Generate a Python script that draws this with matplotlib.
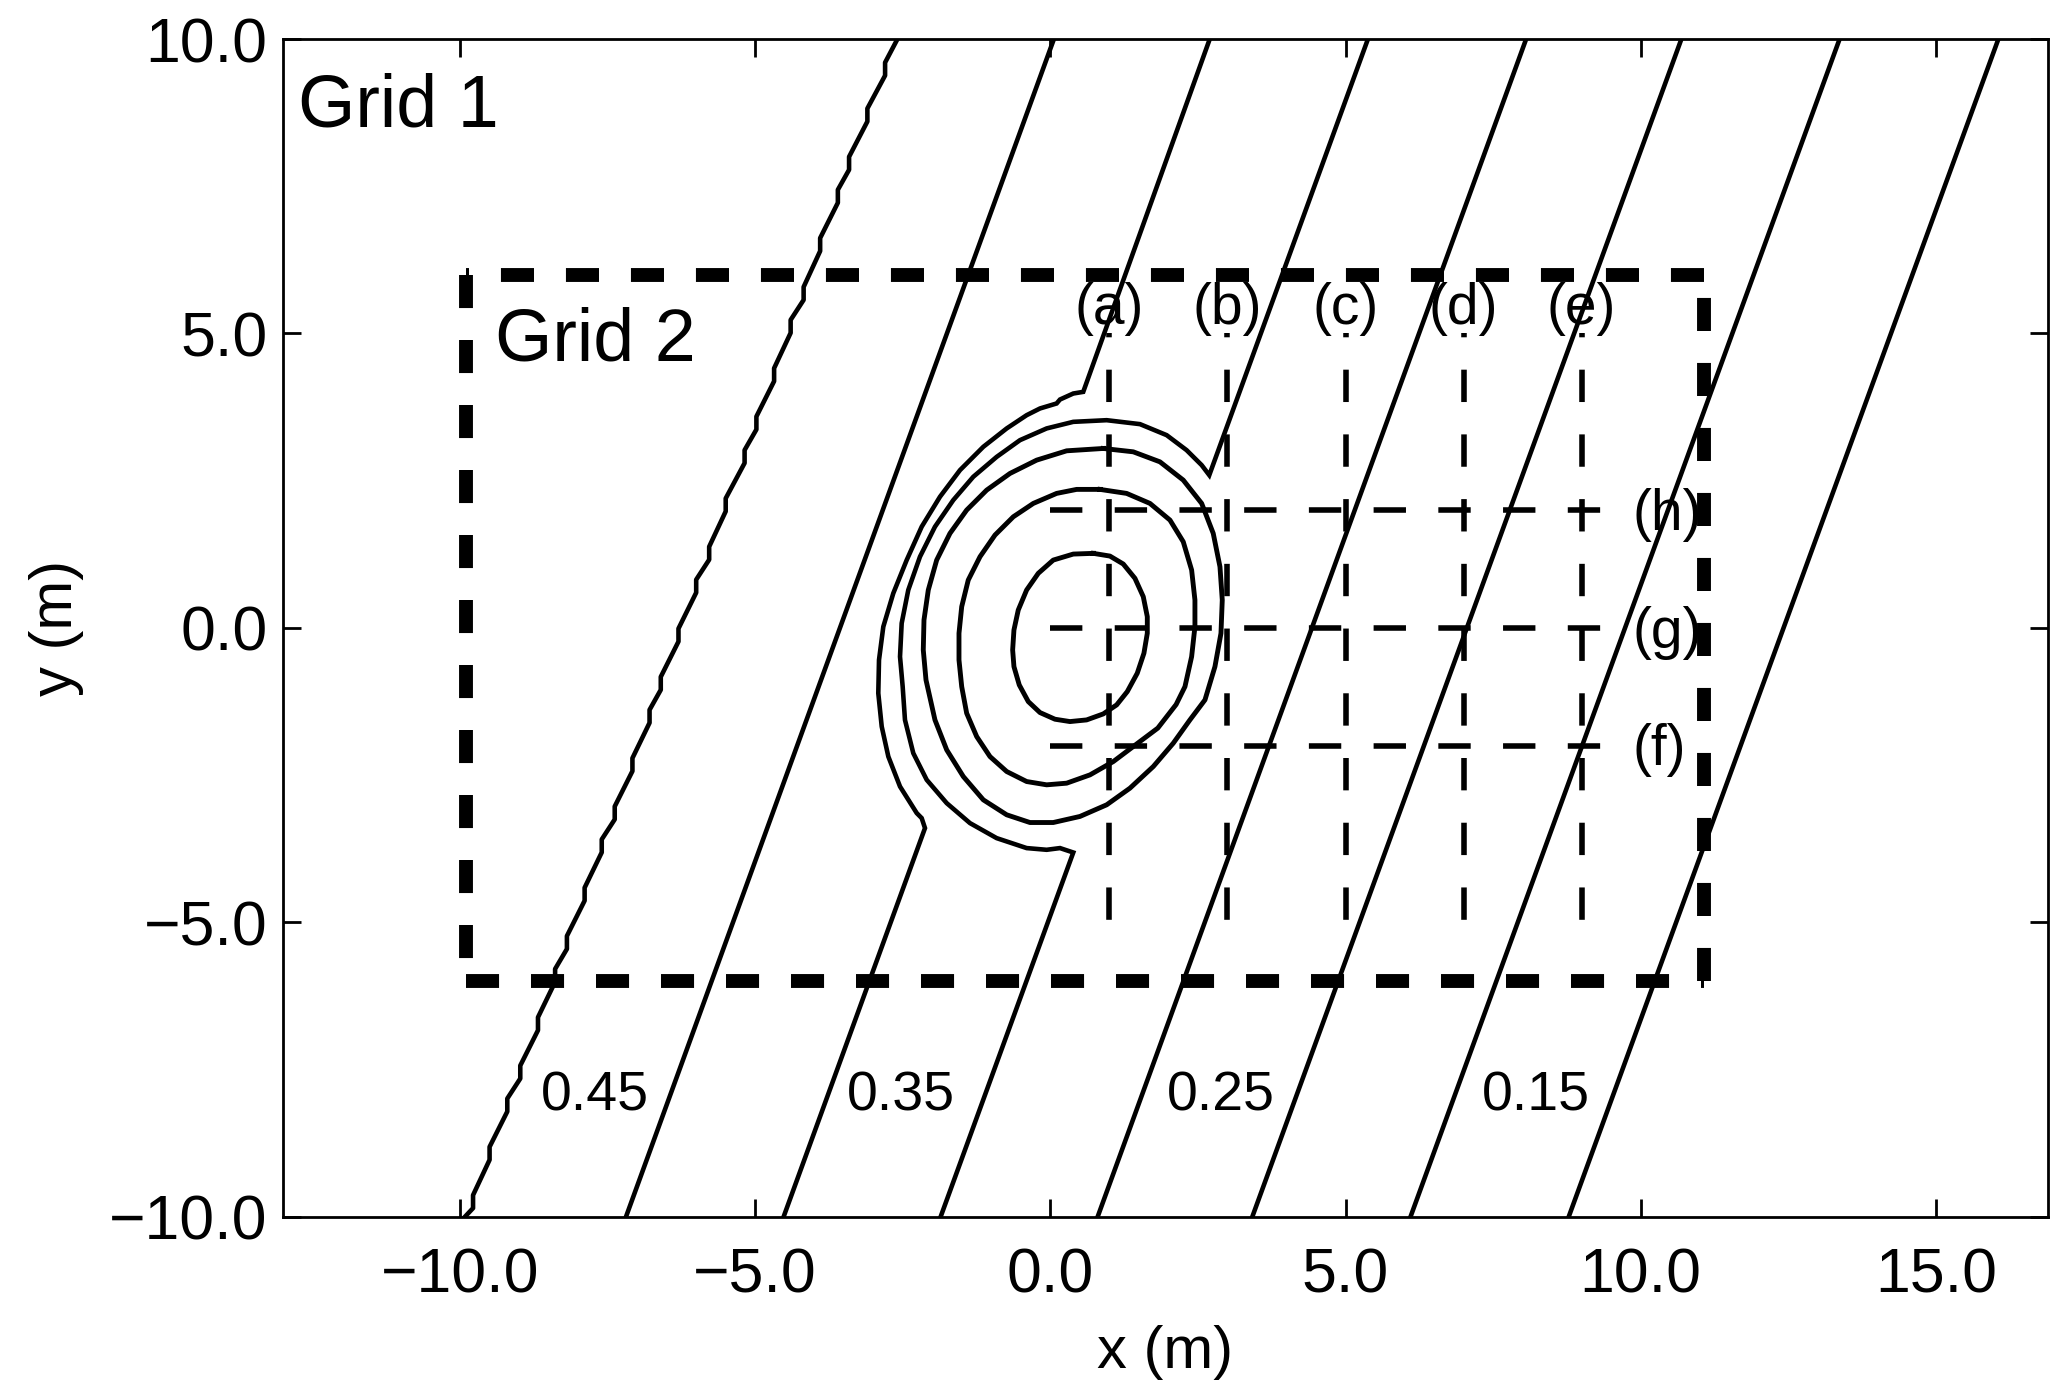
import matplotlib
matplotlib.use('Agg')
import matplotlib.pyplot as plt

plt.rcParams['font.family'] = ['Liberation Sans', 'DejaVu Sans']
plt.rcParams['lines.scale_dashes'] = False

# straight contours: x where each crosses y = -10 and y = 10
edge_y = [-10.0, 10.0]
straight_x = [
    [-7.19, 0.06],
    [0.80, 8.06],
    [3.42, 10.69],
    [6.10, 13.37],
    [8.78, 16.06],
]

# 0.45 contour (stair-stepped)
c45_x = [-2.59, -2.80, -2.80, -3.10, -3.10, -3.41, -3.41, -3.60, -3.60, -3.90,
         -3.90, -4.18, -4.18, -4.40, -4.40, -4.68, -4.68, -4.98, -4.98, -5.18,
         -5.18, -5.50, -5.50, -5.78, -5.78, -6.00, -6.00, -6.30, -6.30, -6.60,
         -6.60, -6.79, -6.79, -7.08, -7.08, -7.38, -7.38, -7.60, -7.60, -7.89,
         -7.89, -8.19, -8.19, -8.39, -8.39, -8.68, -8.68, -8.98, -8.98, -9.20,
         -9.20, -9.50, -9.50, -9.78, -9.78, -9.92]
c45_y = [10.0, 9.60, 9.38, 8.82, 8.60, 8.00, 7.78, 7.44, 7.22, 6.62,
         6.40, 5.79, 5.57, 5.23, 5.01, 4.41, 4.19, 3.59, 3.37, 3.02,
         2.80, 2.20, 1.98, 1.38, 1.16, 0.82, 0.60, -0.01, -0.23, -0.83,
         -1.05, -1.39, -1.61, -2.21, -2.43, -3.03, -3.25, -3.59, -3.81, -4.41,
         -4.63, -5.23, -5.45, -5.79, -6.01, -6.61, -6.83, -7.43, -7.65, -7.99,
         -8.21, -8.81, -9.03, -9.63, -9.85, -10.0]

# open contours bending round the vortex
outer1_x = [2.70, 0.557, 0.388, 0.163, 0.106, -0.176, -0.402, -0.740, -1.136, -1.531,
            -1.870, -2.180, -2.434, -2.661, -2.830, -2.903, -2.915, -2.857, -2.745, -2.547,
            -2.264, -2.180, -2.124, -4.52]
outer1_y = [10.0, 4.009, 3.981, 3.879, 3.812, 3.727, 3.613, 3.388, 3.076, 2.680,
            2.228, 1.719, 1.153, 0.589, 0.022, -0.543, -1.108, -1.674, -2.183, -2.692,
            -3.143, -3.228, -3.398, -10.0]

outer2_x = [5.38, 2.692, 2.563, 2.308, 1.970, 1.518, 0.954, 0.388, -0.063, -0.515,
            -0.910, -1.306, -1.645, -1.955, -2.209, -2.407, -2.519, -2.547, -2.502, -2.463,
            -2.322, -2.095, -1.756, -1.362, -0.910, -0.402, -0.063, 0.163, 0.388, -1.86]
outer2_y = [10.0, 2.595, 2.765, 3.019, 3.274, 3.461, 3.528, 3.500, 3.388, 3.189,
            2.905, 2.567, 2.171, 1.719, 1.210, 0.645, 0.080, -0.487, -0.996, -1.561,
            -2.126, -2.578, -2.974, -3.313, -3.568, -3.737, -3.766, -3.737, -3.812, -10.0]

# closed vortex contours
loop3_x = [0.896, 1.404, 1.856, 2.251, 2.563, 2.759, 2.873, 2.912, 2.890, 2.788,
           2.619, 2.364, 2.082, 1.744, 1.348, 0.954, 0.501, 0.049, -0.346, -0.740,
           -1.136, -1.475, -1.756, -1.955, -2.107, -2.153, -2.141, -2.068, -1.926, -1.701,
           -1.418, -1.079, -0.684, -0.232, 0.276, 0.896]
loop3_y = [3.048, 2.991, 2.821, 2.511, 2.115, 1.606, 1.040, 0.475, -0.090, -0.656,
           -1.221, -1.561, -1.956, -2.352, -2.720, -3.002, -3.200, -3.303, -3.303, -3.172,
           -2.918, -2.522, -2.070, -1.561, -0.882, -0.373, 0.136, 0.645, 1.153, 1.606,
           2.002, 2.341, 2.624, 2.850, 3.008, 3.048]

loop4_x = [0.840, 1.292, 1.687, 2.026, 2.251, 2.393, 2.449, 2.449, 2.393, 2.280,
           2.13, 1.82, 1.404, 1.066, 0.671, 0.276, -0.063, -0.402, -0.740, -1.023,
           -1.248, -1.418, -1.502, -1.548, -1.548, -1.502, -1.391, -1.192, -0.938, -0.628,
           -0.289, 0.106, 0.445, 0.840]
loop4_y = [2.353, 2.285, 2.115, 1.832, 1.464, 0.984, 0.475, 0.022, -0.487, -0.996,
           -1.30, -1.70, -2.013, -2.268, -2.494, -2.635, -2.663, -2.607, -2.437, -2.183,
           -1.844, -1.447, -0.996, -0.543, -0.090, 0.362, 0.814, 1.210, 1.578, 1.888,
           2.115, 2.285, 2.353, 2.353]

inner_x = [0.727, 1.009, 1.235, 1.433, 1.574, 1.642, 1.642, 1.585, 1.472, 1.303,
           1.123, 0.896, 0.614, 0.332, 0.078, -0.176, -0.374, -0.527, -0.617, -0.639,
           -0.617, -0.544, -0.402, -0.205, 0.049, 0.388, 0.727]
inner_y = [1.267, 1.221, 1.086, 0.843, 0.531, 0.192, -0.090, -0.429, -0.768, -1.080,
           -1.306, -1.459, -1.561, -1.589, -1.549, -1.436, -1.250, -0.967, -0.656, -0.373,
           -0.034, 0.305, 0.645, 0.928, 1.153, 1.255, 1.267]

# contour level labels
level_labels = ['0.45', '0.35', '0.25', '0.15']
level_x = [-7.72, -2.53, 2.88, 8.22]
level_y = -8.19

# probe lines
probe_x = [1, 3, 5, 7, 9]
probe_x_labels = ['(a)', '(b)', '(c)', '(d)', '(e)']
probe_y = [2, 0, -2]
probe_y_labels = ['(h)', '(g)', '(f)']
probe_x_span = [0.0, 9.6]
probe_y_span = [5.0, -5.0]

# Grid 2 box
grid2_x = [-9.9, 11.07]
grid2_y = [-6.0, 6.0]

xticks = [-10, -5, 0, 5, 10, 15]
xtick_labels = ['\u221210.0', '\u22125.0', '0.0', '5.0', '10.0', '15.0']
yticks = [-10, -5, 0, 5, 10]
ytick_labels = ['\u221210.0', '\u22125.0', '0.0', '5.0', '10.0']

fig = plt.figure(figsize=(20.67, 13.98), dpi=100)
ax = fig.add_axes([0.1369, 0.1295, 0.8539, 0.8426])

lw = 3.3
for xs in straight_x:
    ax.plot(xs, edge_y, color='black', lw=lw)
ax.plot(c45_x, c45_y, color='black', lw=lw)
ax.plot(outer1_x, outer1_y, color='black', lw=lw, solid_joinstyle='miter')
ax.plot(outer2_x, outer2_y, color='black', lw=lw, solid_joinstyle='miter')
for xs, ys in [(loop3_x, loop3_y), (loop4_x, loop4_y), (inner_x, inner_y)]:
    ax.plot(xs, ys, color='black', lw=3.5)

# thin dashed probe lines
for x in probe_x:
    ax.plot([x, x], probe_y_span, color='black', lw=4.0,
            linestyle=(20.2, (23.3, 23.3)))
for y in probe_y:
    ax.plot(probe_x_span, [y, y], color='black', lw=4.0,
            linestyle=(0, (23.3, 23.3)))

# Grid 2 box, each side drawn on its own
x0, x1 = grid2_x
y0, y1 = grid2_y
for xs, ys in [([x0, x0], [y1, y0]), ([x0, x1], [y0, y0]),
               ([x1, x1], [y0, y1]), ([x1, x0], [y1, y1])]:
    ax.plot(xs, ys, color='black', lw=10, linestyle=(0, (23.8, 23.0)))

for x, lab in zip(probe_x, probe_x_labels):
    ax.text(x, 5.41, lab, fontsize=41, ha='center', va='center')
for y, lab in zip(probe_y, probe_y_labels):
    ax.text(9.86, y - 0.08, lab, fontsize=41, ha='left', va='center')

for x, lab in zip(level_x, level_labels):
    ax.text(x, level_y, lab, fontsize=40, ha='center', va='baseline')

ax.text(-12.74, 8.52, 'Grid 1', fontsize=53, ha='left', va='baseline')
ax.text(-9.41, 4.54, 'Grid 2', fontsize=53, ha='left', va='baseline')

ax.set_xlim(-13, 16.9)
ax.set_ylim(-10, 10)
ax.set_xticks(xticks)
ax.set_xticklabels(xtick_labels)
ax.set_yticks(yticks)
ax.set_yticklabels(ytick_labels)
ax.tick_params(direction='in', length=13, width=2, top=True, right=True,
               labelsize=45)
ax.tick_params(axis='x', pad=21)
ax.tick_params(axis='y', pad=11)
for sp in ax.spines.values():
    sp.set_linewidth(2)

ax.set_xlabel('x (m)', fontsize=43)
ax.set_ylabel('y (m)', fontsize=43)
ax.xaxis.set_label_coords(0.5, -0.092)
ax.yaxis.set_label_coords(-0.113, 0.5)

fig.savefig('out.png', dpi=100)
